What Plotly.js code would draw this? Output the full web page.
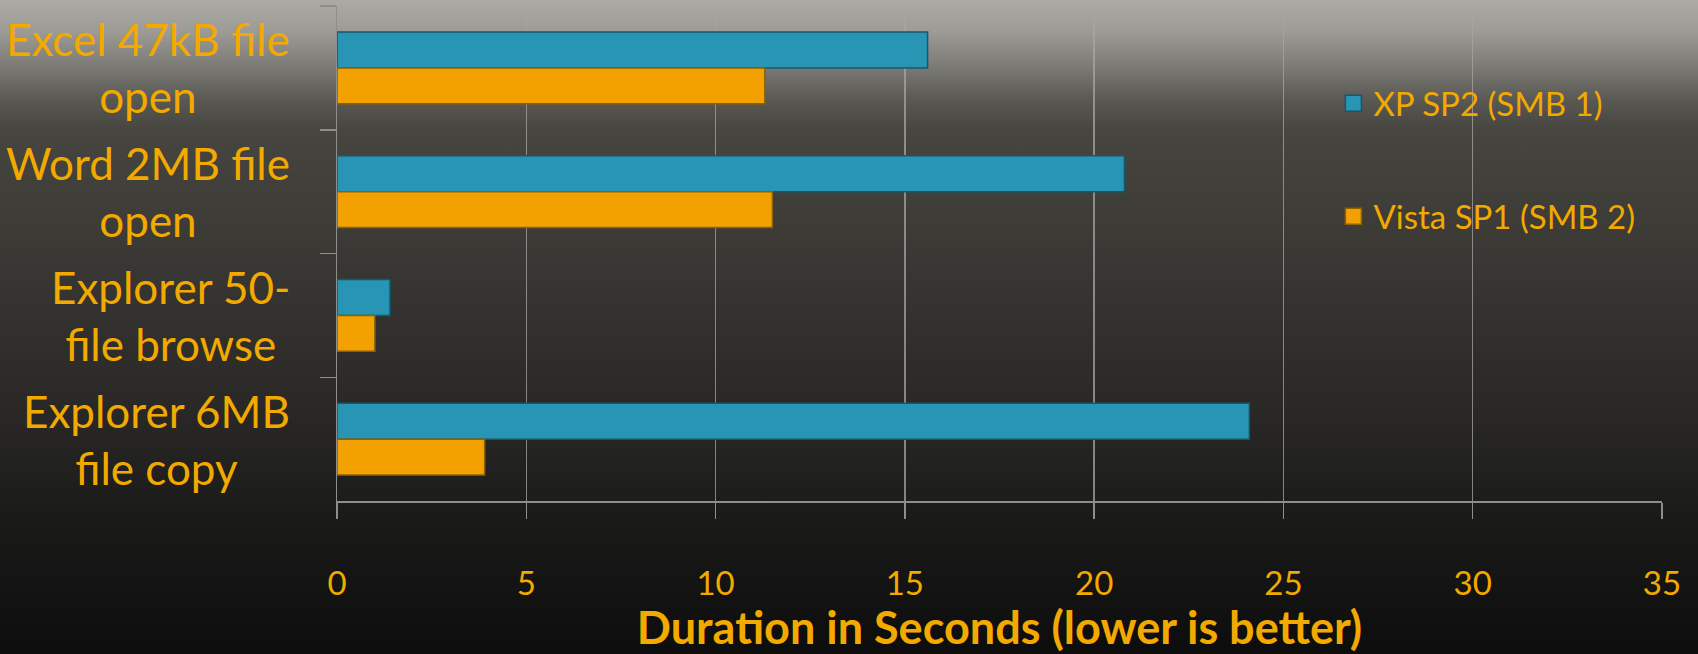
<!DOCTYPE html>
<html>
<head>
<meta charset="utf-8">
<script src="https://cdn.plot.ly/plotly-3.0.1.min.js"></script>
<style>
  html, body { margin: 0; padding: 0; width: 1698px; height: 654px; overflow: hidden; }
  body {
    background: linear-gradient(to bottom,
      #acaaa4 0px, #9e9c96 30px, #7e7c76 65px, #5a5853 100px, #47453f 130px,
      #3e3c37 220px, #33312e 320px, #282725 420px, #1a1a19 520px, #0d0d0d 654px);
  }
  #chart { width: 1698px; height: 654px; }
</style>
</head>
<body>
<div id="chart"></div>
<script>
// Data
const categories = [
  "Excel 47kB file<br>open",
  "Word 2MB file<br>open",
  "Explorer 50-<br>file browse",
  "Explorer 6MB<br>file copy"
];
const seriesNames = ["XP SP2 (SMB 1)", "Vista SP1 (SMB 2)"];
const xpValues = [15.6, 20.8, 1.4, 24.1];
const vistaValues = [11.3, 11.5, 1.0, 3.9];
const xTickValues = [0, 5, 10, 15, 20, 25, 30, 35];
const axisTitle = "Duration in Seconds (lower is better)";

const textColor = "#F2A900";
const tealFill = "#2795B3";
const tealLine = "#17586A";
const orangeFill = "#F2A100";
const orangeLine = "#8F6200";
const fontFam = "Lato, 'Open Sans', sans-serif";

const traces = [
  {
    type: "bar", orientation: "h", name: seriesNames[0],
    y: categories, x: xpValues, showlegend: false,
    marker: { color: tealFill, line: { color: tealLine, width: 1.5 } },
    hoverinfo: "x+y"
  },
  {
    type: "bar", orientation: "h", name: seriesNames[1],
    y: categories, x: vistaValues, showlegend: false,
    marker: { color: orangeFill, line: { color: orangeLine, width: 1.5 } },
    hoverinfo: "x+y"
  },
  // legend swatches
  {
    type: "scatter", mode: "markers", name: seriesNames[0], legendgroup: "a",
    x: [null], y: [null],
    marker: { symbol: "square", size: 22, color: tealFill, line: { color: tealLine, width: 1.5 } }
  },
  {
    type: "scatter", mode: "markers", name: seriesNames[1], legendgroup: "b",
    x: [null], y: [null],
    marker: { symbol: "square", size: 22, color: orangeFill, line: { color: orangeLine, width: 1.5 } }
  }
];

const annotations = categories.map(c => ({
  text: c, y: c, yref: "y", x: -0.034, xref: "paper",
  xanchor: "right", yanchor: "middle", align: "center", showarrow: false,
  font: { family: fontFam, size: 44, color: textColor }
}));

const layout = {
  width: 1698, height: 654,
  margin: { l: 337, r: 36, t: 6, b: 153 },
  paper_bgcolor: "rgba(0,0,0,0)",
  plot_bgcolor: "rgba(0,0,0,0)",
  barmode: "group",
  bargap: 0.42,
  bargroupgap: 0,
  font: { family: fontFam, color: textColor },
  xaxis: {
    range: [0, 35], tickvals: xTickValues, ticktext: xTickValues.map(String),
    showgrid: true, gridcolor: "rgba(165,165,165,0.75)", gridwidth: 1.5,
    showline: true, linecolor: "#8e8e8e", linewidth: 1.5,
    ticks: "outside", ticklen: 16, tickcolor: "#8e8e8e", tickwidth: 1.5,
    ticklabelstandoff: 37,
    tickfont: { family: fontFam, size: 33, color: textColor },
    zeroline: false, fixedrange: true,
    title: { text: "<b>" + axisTitle + "</b>", font: { family: fontFam, size: 45, color: textColor }, standoff: 16 }
  },
  yaxis: {
    type: "category", categoryorder: "array", categoryarray: categories,
    autorange: "reversed",
    showgrid: false, showline: true, linecolor: "#8e8e8e", linewidth: 1.5,
    ticks: "outside", ticklen: 16, tickcolor: "#8e8e8e", tickwidth: 1.5,
    tickson: "boundaries", showticklabels: false, fixedrange: true, zeroline: false
  },
  legend: {
    x: 0.752, xanchor: "left", y: 0.86, yanchor: "top",
    bgcolor: "rgba(0,0,0,0)", borderwidth: 0,
    font: { family: fontFam, size: 33, color: textColor },
    tracegroupgap: 67, itemsizing: "trace"
  },
  annotations: annotations,
  showlegend: true
};

Plotly.newPlot("chart", traces, layout, { displayModeBar: false, staticPlot: true });
</script>
</body>
</html>
